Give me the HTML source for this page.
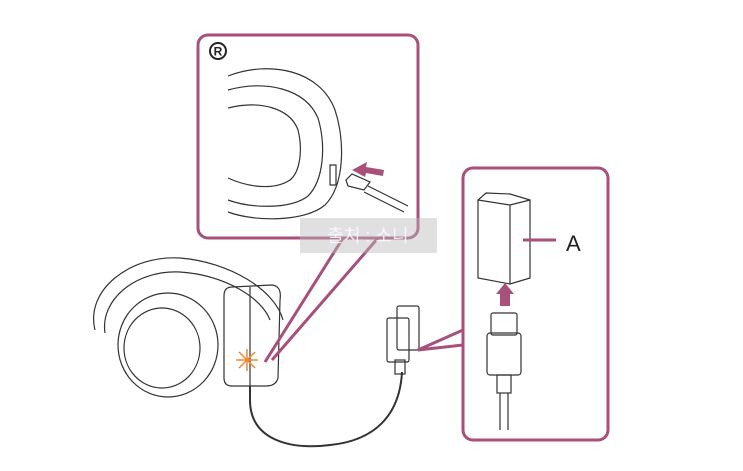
<!DOCTYPE html>
<html><head><style>body{margin:0;background:#fff}svg{display:block}</style></head>
<body>
<svg width="743" height="471" viewBox="0 0 743 471" xmlns="http://www.w3.org/2000/svg" font-family="Liberation Sans, sans-serif">
<g fill="none" stroke="#333" stroke-width="1.2">
<path d="M228 76 C 270 60, 320 70, 335 110 C 345 140, 345 185, 325 205 C 305 222, 255 222, 228 212"/>
<path d="M228 90 C 265 80, 305 88, 318 118 C 326 145, 324 180, 308 196 C 290 210, 250 208, 228 200"/>
<path d="M228 108 C 260 100, 290 108, 298 130 C 303 150, 300 172, 290 180 C 275 190, 250 188, 228 178"/>
<path d="M330 165 l6 0 l0 20 l-6 0 z"/>
<path d="M346 180 l6 -6 l18 8 l-6 8 l-16 -4 z"/>
<path d="M368 186 l40 20 M364 192 l40 20"/>
<path d="M95 330 C 85 290, 130 255, 180 258 C 230 262, 275 290, 283 320"/>
<path d="M105 333 C 100 300, 135 270, 180 272 C 225 275, 262 298, 270 320"/>
<ellipse cx="168" cy="345" rx="50" ry="52"/>
<ellipse cx="162" cy="348" rx="38" ry="40"/>
<path d="M232 287 L272 285 Q282 286 280 300 L278 378 Q276 386 266 386 L232 386 Q224 386 224 378 L224 296 Q224 287 232 287 Z"/>
<path d="M250 287 L250 386"/>
<path d="M250 386 L250 400 C 250 440, 290 450, 330 445 C 380 440, 400 410, 402 372" stroke-width="2"/>
<rect x="387" y="318" width="22" height="44" rx="2"/>
<rect x="397" y="306" width="22" height="44" rx="2"/>
<rect x="395" y="360" width="10" height="14"/>
<path d="M478 200 L478 278 L510 284 L530 278 L530 200 L510 194 L486 193 Z"/>
<path d="M478 200 L510 205 L530 200 M510 205 L510 284"/>
<rect x="491" y="313" width="26" height="22" rx="2"/>
<rect x="487" y="333" width="34" height="42" rx="3"/>
<rect x="497" y="375" width="14" height="18"/>
<path d="M500 393 L500 430 M508 393 L508 430"/>
</g>
<g fill="none" stroke="#a8507a" stroke-width="3">
<rect x="198" y="35" width="220" height="203" rx="10"/>
<rect x="463" y="168" width="145" height="272" rx="10"/>
<path d="M343 238 L265 362 M378 238 L272 360"/>
<path d="M463 330 L418 350 L463 345"/>
<path d="M523 240 L556 240"/>
</g>
<path d="M384 170 L366 167 L367 162 L352 170 L365 177 L366 173 L383 176 Z" fill="#a8507a"/>
<path d="M500 306 L500 294 L496 294 L505 283 L514 294 L510 294 L510 306 Z" fill="#a8507a"/>
<g stroke="#f08a30" stroke-width="1.5"><path d="M236 360 L258 360 M247 349 L247 371 M239 352 L255 368 M255 352 L239 368"/></g>
<circle cx="218" cy="51" r="8" fill="none" stroke="#222" stroke-width="2"/>
<text x="218" y="55.5" font-size="12" font-weight="bold" text-anchor="middle" fill="#222">R</text>
<text x="566" y="251" font-size="22" fill="#222">A</text>
<rect x="300" y="218" width="137" height="35" fill="#bbb" opacity="0.45"/>
<text x="368" y="242" font-size="18" fill="#fff" opacity="0.8" text-anchor="middle" font-family="Liberation Sans, Noto Sans CJK KR, sans-serif">출처 : 소니</text>
</svg>
</body></html>
